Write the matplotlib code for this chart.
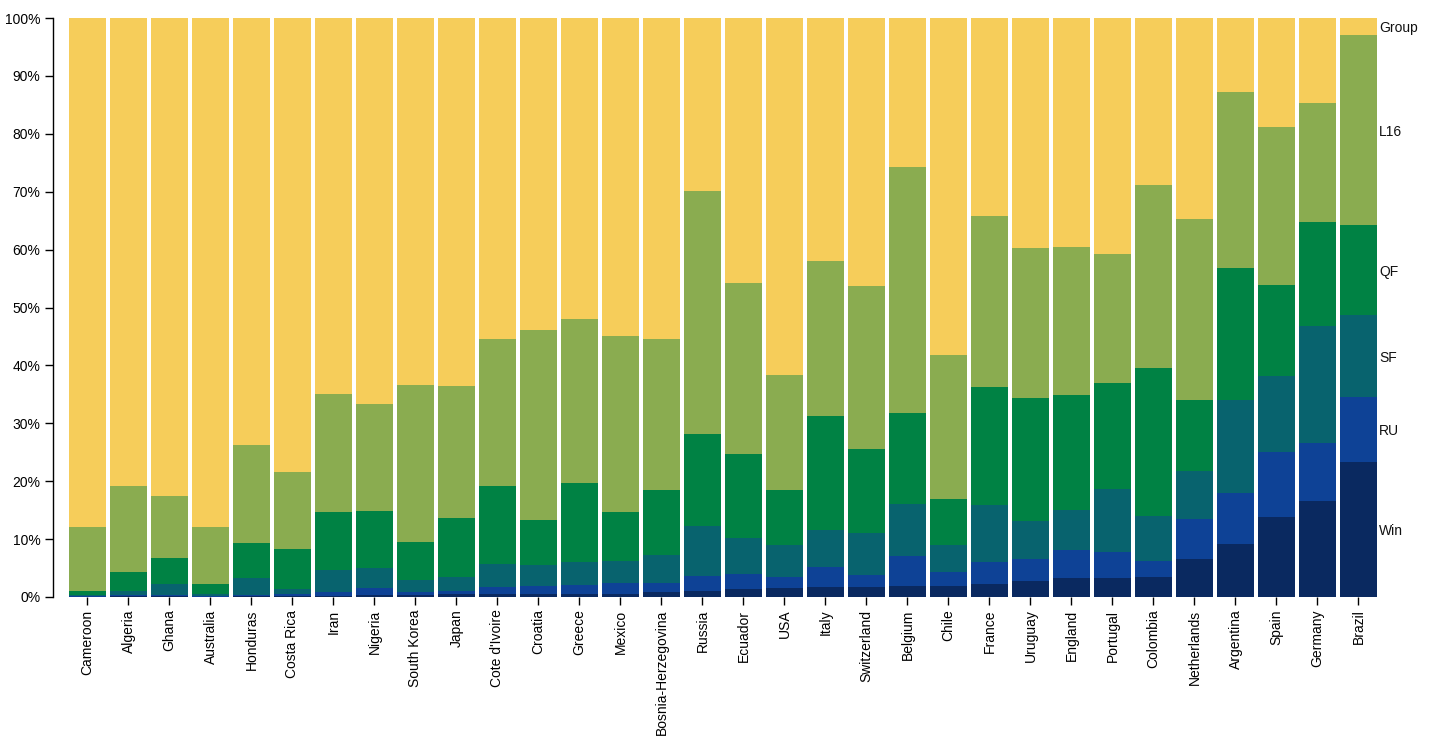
import numpy as np
import matplotlib
matplotlib.use("Agg")
import matplotlib.pyplot as plt

plt.rcParams['font.family'] = ['Liberation Sans', 'DejaVu Sans']

countries = ["Cameroon", "Algeria", "Ghana", "Australia", "Honduras", "Costa Rica",
             "Iran", "Nigeria", "South Korea", "Japan", "Cote d'Ivoire", "Croatia",
             "Greece", "Mexico", "Bosnia-Herzegovina", "Russia", "Ecuador", "USA",
             "Italy", "Switzerland", "Belgium", "Chile", "France", "Uruguay",
             "England", "Portugal", "Colombia", "Netherlands", "Argentina", "Spain",
             "Germany", "Brazil"]

# cumulative chance (%) of reaching at least each stage
win = [0.05, 0.1, 0.1, 0.05, 0.1, 0.1, 0.2, 0.3, 0.4, 0.5, 0.5, 0.5, 0.5, 0.6, 0.8, 1.0,
       1.35, 1.5, 1.7, 1.7, 1.9, 1.9, 2.2, 2.7, 3.2, 3.2, 3.4, 6.5, 9.1, 13.8, 16.6, 23.3]
final = [0.1, 0.4, 0.4, 0.2, 0.4, 0.5, 0.8, 1.5, 0.8, 1.0, 1.7, 1.85, 2.0, 2.4, 2.5, 3.6,
         3.9, 3.4, 5.1, 3.8, 7.1, 4.3, 6.0, 6.5, 8.1, 7.7, 6.2, 13.5, 17.9, 25.0, 26.6, 34.5]
semi = [0.35, 1.0, 2.2, 0.5, 3.3, 1.4, 4.6, 5.0, 2.9, 3.5, 5.7, 5.5, 6.0, 6.2, 7.2, 12.3,
        10.2, 9.0, 11.6, 11.0, 16.1, 9.0, 15.9, 13.1, 15.0, 18.7, 14.0, 21.8, 34.1, 38.2, 46.8, 48.7]
quarter = [1.0, 4.3, 6.7, 2.2, 9.3, 8.3, 14.7, 14.9, 9.5, 13.7, 19.2, 13.3, 19.7, 14.7, 18.5, 28.2,
           24.7, 18.5, 31.3, 25.5, 31.7, 17.0, 36.3, 34.4, 34.9, 36.9, 39.6, 34.1, 56.8, 53.8, 64.8, 64.3]
last16 = [12.1, 19.2, 17.4, 12.1, 26.3, 21.6, 35.1, 33.4, 36.6, 36.4, 44.5, 46.2, 48.1, 45.0, 44.6, 70.2,
          54.2, 38.4, 58.1, 53.7, 74.3, 41.8, 65.8, 60.3, 60.5, 59.2, 71.1, 65.2, 87.2, 81.1, 85.3, 97.0]
group = [100.0] * len(countries)

stages = ["Win", "RU", "SF", "QF", "L16", "Group"]
colors = ["#0a2960", "#0e4296", "#08636e", "#008244", "#8aac50", "#f6cd5a"]

levels = [np.zeros(len(countries)), np.array(win), np.array(final), np.array(semi),
          np.array(quarter), np.array(last16), np.array(group)]

fig = plt.figure(figsize=(14.31, 7.45), dpi=100)
ax = fig.add_axes([53 / 1431, 1 - 597 / 745, (1378 - 53) / 1431, (597 - 18) / 745])

x = np.arange(len(countries))
for k in range(len(stages)):
    ax.bar(x, levels[k + 1] - levels[k], bottom=levels[k], width=0.9,
           color=colors[k], linewidth=0)
    # stage name next to the last bar, centred on its segment
    mid = (levels[k][-1] + levels[k + 1][-1]) / 2
    ax.text(31.5, mid - 0.3, stages[k], fontsize=10, va='center', ha='left', color='#111111')

ax.set_xlim(-0.841, 31.476)
ax.set_ylim(0, 100)
ax.set_yticks(range(0, 101, 10))
ax.set_yticklabels(["%d%%" % v for v in range(0, 101, 10)], fontsize=10)
ax.set_xticks(x)
ax.set_xticklabels(countries, rotation=90, fontsize=10)
ax.tick_params(axis='both', length=6, width=1, color='black', pad=3)
for s in ['top', 'right', 'bottom']:
    ax.spines[s].set_visible(False)
ax.spines['left'].set_linewidth(1)

fig.savefig("out.png", dpi=100)
